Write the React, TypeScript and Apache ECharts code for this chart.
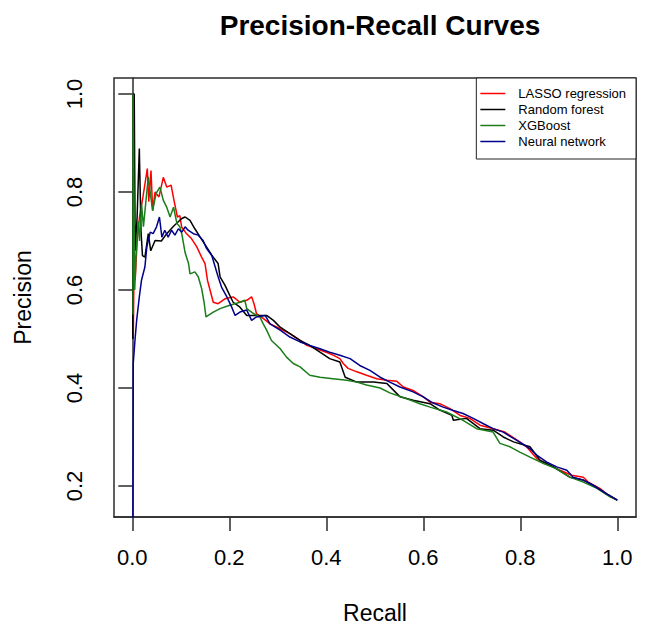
import React, { useEffect, useRef } from "react";
import * as echarts from "echarts";

const titleText = "Precision-Recall Curves";
const xName = "Recall";
const yName = "Precision";
const tickValues = [0, 0.2, 0.4, 0.6, 0.8, 1.0];
const yTickValues = [0.2, 0.4, 0.6, 0.8, 1.0];
const seriesNames = ["LASSO regression", "Random forest", "XGBoost", "Neural network"];
const seriesColors = ["#ff0000", "#000000", "#1a7d1a", "#00008b"];

const lasso: number[][] = [
  [0.002, 0.5], [0.004, 0.68], [0.006, 0.62], [0.01, 0.7], [0.015, 0.75], [0.022, 0.79], [0.031, 0.848],
  [0.034, 0.78], [0.0386, 0.844], [0.042, 0.762], [0.047, 0.8], [0.055, 0.79], [0.064, 0.83], [0.071, 0.81],
  [0.08, 0.814], [0.086, 0.783], [0.093, 0.749], [0.098, 0.752], [0.102, 0.728], [0.111, 0.716], [0.122, 0.705],
  [0.133, 0.688], [0.143, 0.667], [0.15, 0.654], [0.155, 0.62], [0.167, 0.575], [0.177, 0.572], [0.191, 0.582],
  [0.208, 0.586], [0.222, 0.575], [0.236, 0.579], [0.246, 0.586], [0.251, 0.572], [0.256, 0.552], [0.27, 0.542],
  [0.284, 0.531], [0.305, 0.521], [0.325, 0.511], [0.346, 0.497], [0.36, 0.487], [0.38, 0.48], [0.4, 0.473],
  [0.414, 0.467], [0.428, 0.46], [0.435, 0.45], [0.445, 0.44], [0.463, 0.433], [0.483, 0.426], [0.504, 0.419],
  [0.525, 0.416], [0.545, 0.414], [0.559, 0.402], [0.579, 0.395], [0.6, 0.382], [0.614, 0.371], [0.634, 0.368],
  [0.655, 0.358], [0.676, 0.344], [0.696, 0.338], [0.717, 0.324], [0.744, 0.317], [0.768, 0.31], [0.799, 0.29],
  [0.813, 0.28], [0.834, 0.256], [0.854, 0.246], [0.882, 0.232], [0.906, 0.222], [0.93, 0.218], [0.94, 0.208],
  [0.964, 0.195], [0.978, 0.184], [1.0, 0.171],
];

const randomForest: number[][] = [
  [0.001, 0.5], [0.002, 1.0], [0.004, 1.0], [0.006, 0.68], [0.01, 0.75], [0.0145, 0.889], [0.018, 0.72],
  [0.021, 0.67], [0.026, 0.667], [0.033, 0.715], [0.038, 0.68], [0.047, 0.701], [0.06, 0.7], [0.071, 0.715],
  [0.085, 0.73], [0.102, 0.746], [0.109, 0.749], [0.119, 0.742], [0.129, 0.725], [0.14, 0.708], [0.153, 0.688],
  [0.164, 0.671], [0.167, 0.667], [0.177, 0.654], [0.181, 0.627], [0.191, 0.61], [0.201, 0.589], [0.208, 0.575],
  [0.222, 0.565], [0.236, 0.548], [0.256, 0.548], [0.277, 0.548], [0.291, 0.538], [0.305, 0.524], [0.325, 0.511],
  [0.346, 0.497], [0.366, 0.487], [0.387, 0.473], [0.407, 0.46], [0.428, 0.453], [0.439, 0.422], [0.463, 0.412],
  [0.497, 0.412], [0.525, 0.409], [0.545, 0.389], [0.552, 0.382], [0.579, 0.375], [0.614, 0.368], [0.634, 0.355],
  [0.659, 0.344], [0.662, 0.334], [0.689, 0.338], [0.717, 0.317], [0.744, 0.314], [0.765, 0.3], [0.786, 0.29],
  [0.82, 0.28], [0.841, 0.252], [0.868, 0.239], [0.902, 0.218], [0.93, 0.212], [0.951, 0.201], [0.978, 0.184],
  [1.0, 0.171],
];

const xgboost: number[][] = [
  [0.0015, 0.55], [0.0016, 1.0], [0.003, 1.0], [0.005, 0.6], [0.0076, 0.667], [0.012, 0.74], [0.015, 0.7],
  [0.019, 0.776], [0.023, 0.729], [0.033, 0.831], [0.04, 0.776], [0.042, 0.762], [0.049, 0.797], [0.057, 0.81],
  [0.064, 0.783], [0.071, 0.769], [0.078, 0.749], [0.085, 0.769], [0.092, 0.736], [0.098, 0.729], [0.102, 0.715],
  [0.105, 0.698], [0.109, 0.676], [0.116, 0.654], [0.119, 0.633], [0.129, 0.637], [0.136, 0.627], [0.143, 0.603],
  [0.148, 0.575], [0.152, 0.545], [0.167, 0.555], [0.181, 0.562], [0.201, 0.569], [0.222, 0.575], [0.232, 0.579],
  [0.236, 0.562], [0.25, 0.552], [0.263, 0.545], [0.27, 0.531], [0.277, 0.518], [0.287, 0.497], [0.305, 0.48],
  [0.318, 0.463], [0.332, 0.45], [0.346, 0.443], [0.366, 0.426], [0.387, 0.422], [0.414, 0.419], [0.442, 0.416],
  [0.463, 0.412], [0.483, 0.406], [0.511, 0.4], [0.531, 0.39], [0.566, 0.378], [0.593, 0.368], [0.614, 0.361],
  [0.648, 0.351], [0.682, 0.334], [0.71, 0.317], [0.744, 0.31], [0.758, 0.287], [0.779, 0.28], [0.799, 0.269],
  [0.82, 0.259], [0.848, 0.246], [0.875, 0.235], [0.902, 0.218], [0.93, 0.208], [0.958, 0.195], [0.985, 0.178],
  [1.0, 0.171],
];

const neuralNet: number[][] = [
  [0.001, 0.0], [0.002, 0.45], [0.0055, 0.497], [0.009, 0.538], [0.0145, 0.586], [0.019, 0.62], [0.026, 0.647],
  [0.03, 0.688], [0.037, 0.718], [0.043, 0.715], [0.05, 0.729], [0.056, 0.749], [0.061, 0.708], [0.067, 0.722],
  [0.074, 0.708], [0.081, 0.722], [0.088, 0.712], [0.095, 0.725], [0.102, 0.718], [0.109, 0.729], [0.115, 0.722],
  [0.126, 0.715], [0.136, 0.712], [0.146, 0.701], [0.153, 0.685], [0.164, 0.67], [0.171, 0.647], [0.177, 0.627],
  [0.184, 0.606], [0.195, 0.586], [0.205, 0.565], [0.212, 0.548], [0.222, 0.555], [0.236, 0.559], [0.246, 0.538],
  [0.256, 0.545], [0.274, 0.548], [0.284, 0.531], [0.305, 0.518], [0.325, 0.504], [0.346, 0.494], [0.366, 0.487],
  [0.387, 0.48], [0.407, 0.473], [0.428, 0.467], [0.449, 0.46], [0.469, 0.446], [0.49, 0.436], [0.511, 0.422],
  [0.531, 0.412], [0.552, 0.402], [0.579, 0.392], [0.6, 0.382], [0.617, 0.371], [0.641, 0.361], [0.662, 0.354],
  [0.682, 0.348], [0.703, 0.338], [0.724, 0.327], [0.744, 0.317], [0.765, 0.31], [0.786, 0.297], [0.803, 0.287],
  [0.82, 0.276], [0.834, 0.263], [0.854, 0.249], [0.875, 0.239], [0.896, 0.232], [0.909, 0.218], [0.93, 0.212],
  [0.951, 0.201], [0.978, 0.184], [1.0, 0.171],
];

const seriesData = [lasso, randomForest, xgboost, neuralNet];

const FONT = "'Liberation Sans', Arial, Helvetica, sans-serif";
const AXIS_COLOR = "#2b2b2b";
const LEGEND_LINE_ICON = "path://M0,0L25,0L25,1.5L0,1.5Z";

export default function App() {
  const ref = useRef<HTMLDivElement>(null);
  useEffect(() => {
    if (!ref.current) return;
    const chart = echarts.init(ref.current, undefined, { renderer: "svg" });
    const option: any = {
      animation: false,
      backgroundColor: "#ffffff",
      title: {
        text: titleText,
        left: 375,
        textAlign: "center",
        top: 6,
        textStyle: { fontFamily: FONT, fontSize: 28, fontWeight: "bold", color: "#000" },
      },
      legend: {
        data: seriesNames.map((name) => ({ name, icon: LEGEND_LINE_ICON })),
        orient: "vertical",
        right: 13,
        top: 78,
        backgroundColor: "#fff",
        borderColor: "#222",
        borderWidth: 1,
        borderRadius: 0,
        padding: [9, 10, 11, 4],
        itemWidth: 25,
        itemHeight: 14,
        itemGap: 3,
        textStyle: { fontFamily: FONT, fontSize: 13, color: "#000", padding: [0, 0, 0, 8] },
      },
      grid: {
        left: 114,
        right: 13,
        top: 78,
        bottom: 117,
        show: true,
        borderColor: AXIS_COLOR,
        borderWidth: 1.5,
        backgroundColor: "#fff",
      },
      xAxis: {
        type: "value",
        min: -0.0377,
        max: 1.0386,
        name: xName,
        nameLocation: "middle",
        nameGap: 84,
        nameTextStyle: { fontFamily: FONT, fontSize: 23, color: "#000" },
        axisLine: { show: true, lineStyle: { color: AXIS_COLOR, width: 1.5 } },
        axisTick: {
          show: true,
          customValues: tickValues,
          length: 14,
          lineStyle: { color: AXIS_COLOR, width: 1.5 },
        },
        axisLabel: {
          customValues: tickValues,
          formatter: (v: number) => v.toFixed(1),
          margin: 29,
          fontFamily: FONT,
          fontSize: 22,
          color: "#000",
        },
        splitLine: { show: false },
      },
      yAxis: {
        type: "value",
        min: 0.1367,
        max: 1.0327,
        name: yName,
        nameLocation: "middle",
        nameGap: 80,
        nameRotate: 90,
        nameTextStyle: { fontFamily: FONT, fontSize: 23, color: "#000" },
        axisLine: { show: true, lineStyle: { color: AXIS_COLOR, width: 1.5 } },
        axisTick: {
          show: true,
          customValues: yTickValues,
          length: 14,
          lineStyle: { color: AXIS_COLOR, width: 1.5 },
        },
        axisLabel: {
          customValues: yTickValues,
          formatter: (v: number) => v.toFixed(1),
          rotate: 90,
          margin: 29,
          fontFamily: FONT,
          fontSize: 22,
          color: "#000",
        },
        splitLine: { show: false },
      },
      series: seriesNames.map((name, i) => ({
        name,
        type: "line",
        data: seriesData[i],
        symbol: "none",
        showSymbol: false,
        clip: true,
        color: seriesColors[i],
        lineStyle: { color: seriesColors[i], width: 1.5 },
        itemStyle: { color: seriesColors[i] },
      })),
    };
    chart.setOption(option);
    return () => chart.dispose();
  }, []);
  return (
    <div
      ref={ref}
      style={{ position: "absolute", left: 0, top: 0, width: 649, height: 634, background: "#fff" }}
    />
  );
}
